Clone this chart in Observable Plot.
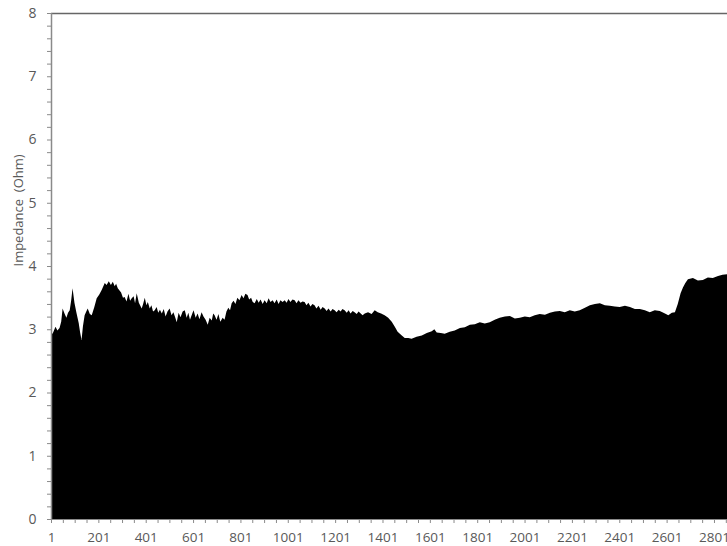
<!DOCTYPE html>
<html>
<head>
<meta charset="utf-8">
<script src="https://cdn.jsdelivr.net/npm/d3@7"></script>
<script src="https://cdn.jsdelivr.net/npm/@observablehq/plot@0.6"></script>
<style>
  html, body { margin: 0; padding: 0; background: #fff; }
  #chart { width: 727px; height: 546px; overflow: hidden; }
</style>
</head>
<body>
<div id="chart"></div>
<script>
// Sample index (category number) and impedance
const sampleIndex = [1, 5, 10, 20, 28, 37, 44, 50, 58, 66, 73, 80, 86, 92, 100, 108, 118, 124, 130, 136, 143, 150, 156, 165, 173, 184, 194, 205, 215, 222, 228, 236, 245, 254, 262, 270, 276, 283, 297, 305, 312, 320, 328, 335, 342, 350, 356, 363, 372, 384, 390, 397, 404, 410, 418, 425, 432, 439, 447, 454, 461, 469, 477, 485, 493, 502, 510, 518, 526, 532, 540, 548, 557, 566, 574, 581, 588, 595, 603, 612, 620, 628, 637, 645, 654, 663, 671, 680, 686, 692, 700, 708, 716, 726, 734, 742, 750, 757, 764, 772, 780, 788, 797, 806, 814, 822, 831, 838, 846, 853, 861, 870, 878, 886, 895, 903, 912, 920, 928, 937, 945, 954, 962, 970, 979, 988, 996, 1004, 1012, 1021, 1030, 1038, 1046, 1055, 1063, 1072, 1080, 1088, 1097, 1105, 1114, 1122, 1131, 1140, 1148, 1157, 1165, 1173, 1182, 1190, 1199, 1207, 1216, 1224, 1232, 1241, 1250, 1258, 1266, 1275, 1283, 1292, 1300, 1309, 1317, 1326, 1340, 1355, 1368, 1381, 1395, 1410, 1425, 1440, 1453, 1465, 1480, 1495, 1510, 1524, 1545, 1567, 1588, 1609, 1620, 1630, 1647, 1664, 1685, 1706, 1728, 1749, 1770, 1791, 1812, 1833, 1854, 1875, 1896, 1918, 1939, 1960, 1981, 2002, 2023, 2044, 2065, 2087, 2108, 2129, 2150, 2171, 2192, 2213, 2234, 2256, 2277, 2298, 2319, 2340, 2361, 2382, 2403, 2425, 2446, 2467, 2488, 2509, 2530, 2551, 2572, 2594, 2608, 2623, 2636, 2648, 2660, 2670, 2680, 2691, 2712, 2733, 2754, 2775, 2796, 2818, 2837, 2856, 2875];
const impedance = [2.70, 2.92, 2.95, 3.04, 2.98, 3.02, 3.12, 3.33, 3.25, 3.18, 3.26, 3.30, 3.45, 3.65, 3.42, 3.27, 3.10, 2.95, 2.83, 3.05, 3.22, 3.28, 3.33, 3.24, 3.22, 3.35, 3.49, 3.55, 3.62, 3.68, 3.73, 3.70, 3.76, 3.70, 3.75, 3.68, 3.72, 3.65, 3.58, 3.50, 3.51, 3.44, 3.56, 3.45, 3.49, 3.52, 3.41, 3.57, 3.42, 3.33, 3.40, 3.50, 3.38, 3.43, 3.33, 3.38, 3.28, 3.30, 3.35, 3.26, 3.31, 3.25, 3.32, 3.20, 3.28, 3.33, 3.22, 3.27, 3.18, 3.11, 3.26, 3.19, 3.28, 3.30, 3.18, 3.26, 3.15, 3.22, 3.30, 3.18, 3.25, 3.16, 3.27, 3.20, 3.15, 3.07, 3.18, 3.14, 3.25, 3.22, 3.15, 3.24, 3.12, 3.18, 3.15, 3.28, 3.34, 3.30, 3.41, 3.45, 3.40, 3.50, 3.46, 3.54, 3.49, 3.56, 3.54, 3.47, 3.50, 3.43, 3.41, 3.48, 3.42, 3.47, 3.40, 3.46, 3.41, 3.49, 3.43, 3.46, 3.41, 3.47, 3.40, 3.46, 3.43, 3.46, 3.42, 3.48, 3.43, 3.47, 3.46, 3.41, 3.46, 3.42, 3.44, 3.43, 3.38, 3.42, 3.36, 3.40, 3.38, 3.33, 3.37, 3.31, 3.35, 3.33, 3.29, 3.33, 3.28, 3.32, 3.30, 3.27, 3.31, 3.28, 3.32, 3.30, 3.26, 3.30, 3.25, 3.29, 3.27, 3.24, 3.28, 3.25, 3.22, 3.25, 3.27, 3.24, 3.30, 3.27, 3.25, 3.22, 3.18, 3.12, 3.04, 2.96, 2.91, 2.86, 2.86, 2.85, 2.88, 2.90, 2.94, 2.97, 3.00, 2.95, 2.94, 2.93, 2.96, 2.98, 3.02, 3.03, 3.07, 3.08, 3.11, 3.09, 3.11, 3.15, 3.18, 3.20, 3.21, 3.17, 3.18, 3.20, 3.19, 3.22, 3.24, 3.23, 3.26, 3.28, 3.29, 3.27, 3.30, 3.28, 3.30, 3.34, 3.38, 3.40, 3.41, 3.38, 3.37, 3.36, 3.35, 3.37, 3.35, 3.32, 3.32, 3.30, 3.27, 3.30, 3.29, 3.25, 3.22, 3.26, 3.27, 3.40, 3.57, 3.66, 3.73, 3.79, 3.81, 3.77, 3.78, 3.82, 3.81, 3.84, 3.86, 3.87];
const xTickLabels = [1, 201, 401, 601, 801, 1001, 1201, 1401, 1601, 1801, 2001, 2201, 2401, 2601, 2801];
const yTickLabels = [0, 1, 2, 3, 4, 5, 6, 7, 8];

const data = sampleIndex.map((x, i) => ({x, y: impedance[i]}));
const xMinor = d3.range(1, 2857, 50);
const yMinor = d3.range(0, 8.001, 0.2);

const axisColor = "#8a8a8a";
const textColor = "#595959";

const chart = Plot.plot({
  width: 727,
  height: 546,
  marginTop: 13,
  marginBottom: 27,
  marginLeft: 51,
  marginRight: 0,
  style: {fontFamily: "'Open Sans', 'Liberation Sans', sans-serif", fontSize: "13px", color: textColor, background: "#fff"},
  x: {domain: [1, 2856]},
  y: {domain: [0, 8]},
  marks: [
    Plot.areaY(data, {x: "x", y: "y", fill: "black", curve: "linear"}),
    Plot.ruleY([8], {stroke: "#666", strokeWidth: 1.5}),
    Plot.axisY({ticks: yMinor, tickSize: 4, text: null, stroke: axisColor, label: null}),
    Plot.axisY({ticks: yTickLabels, tickSize: 0, tickPadding: 15, fill: textColor, fontSize: 14, label: null}),
    Plot.axisX({ticks: xMinor, tickSize: 4, text: null, stroke: axisColor, label: null}),
    Plot.axisX({ticks: xTickLabels, tickSize: 0, tickPadding: 13, fill: textColor, fontSize: 13.5, label: null, tickFormat: d => String(d)}),
    Plot.ruleX([1], {stroke: axisColor, strokeWidth: 1.5}),
    Plot.ruleY([0], {stroke: axisColor, strokeWidth: 1}),
    Plot.text(["Impedance  (Ohm)"], {frameAnchor: "left", dx: -33, rotate: -90, fill: textColor, fontSize: 13})
  ]
});
document.getElementById("chart").appendChild(chart);
</script>
</body>
</html>
